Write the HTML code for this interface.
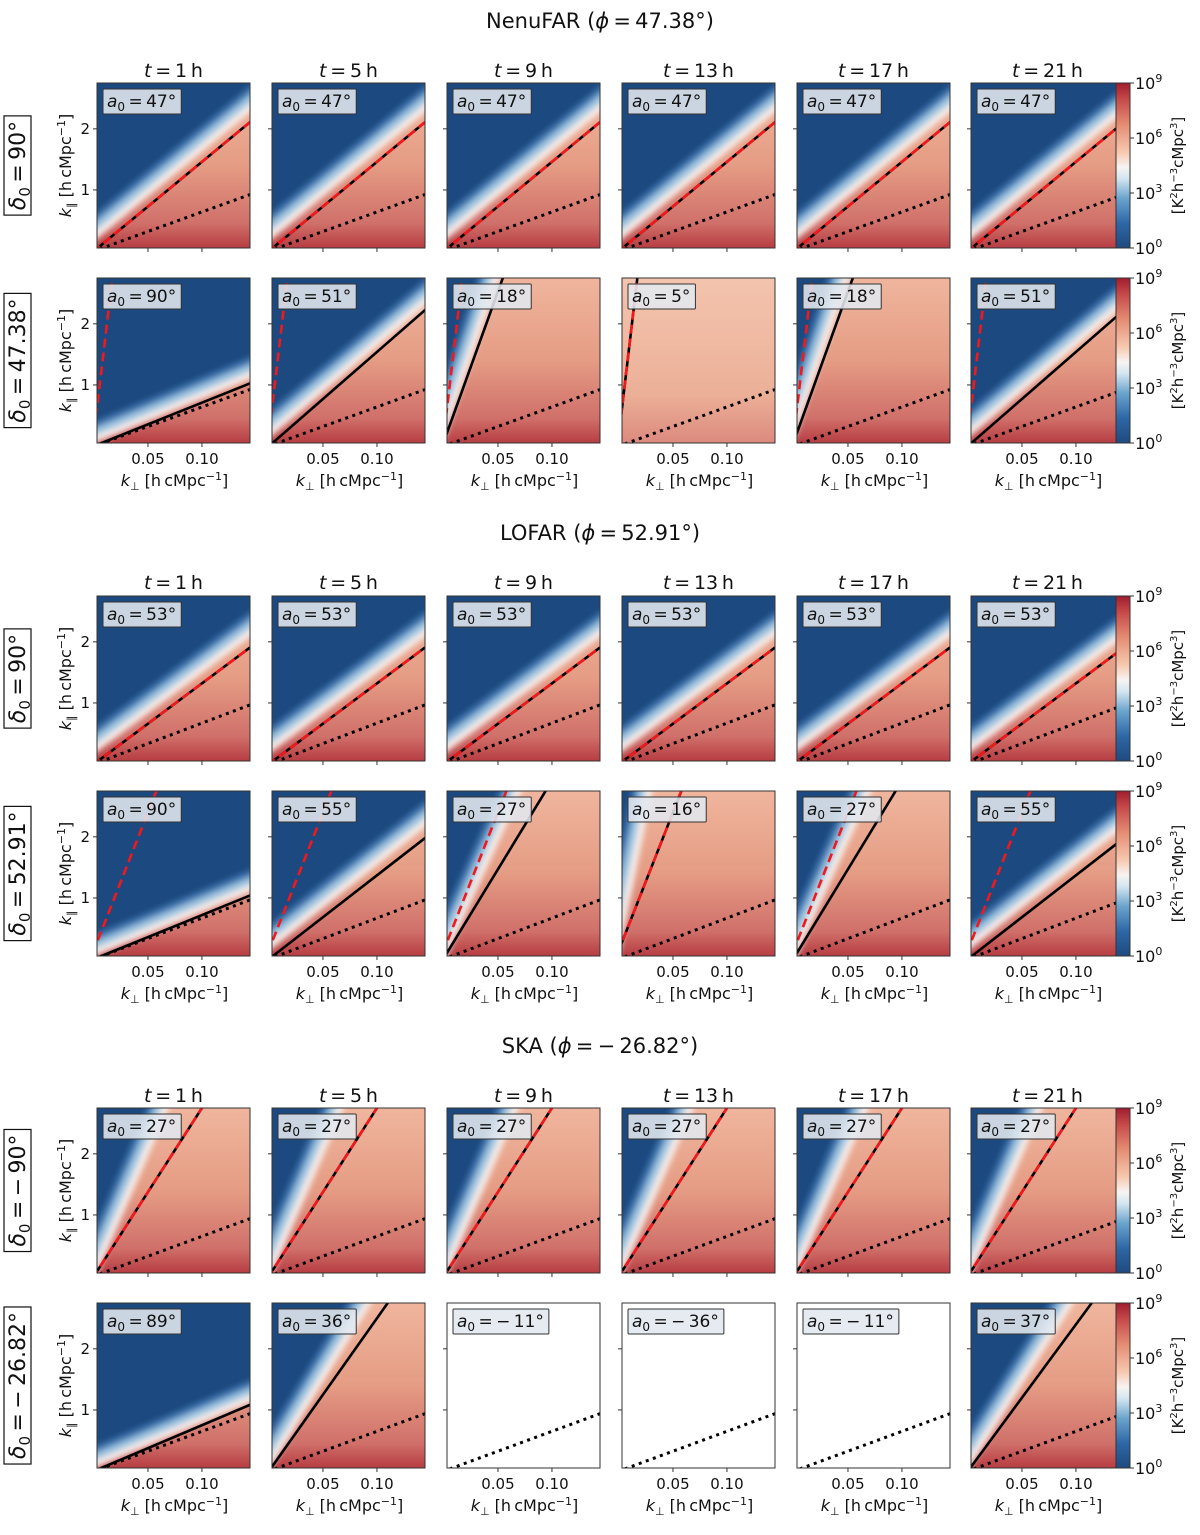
<!DOCTYPE html>
<html><head><meta charset="utf-8">
<style>
html,body{margin:0;padding:0;background:#fff;overflow:hidden;width:1200px;height:1535px;}
svg{display:block;font-family:"DejaVu Sans","Liberation Sans",sans-serif;}
</style></head>
<body>
<svg id="fig" width="1200" height="1535" viewBox="0 0 1200 1535" xmlns="http://www.w3.org/2000/svg">
<defs>
<linearGradient id="redbg" x1="0" y1="0" x2="0" y2="1">
<stop offset="0" stop-color="#f0b59d"/>
<stop offset="0.5" stop-color="#e59c84"/>
<stop offset="0.85" stop-color="#d0706a"/>
<stop offset="1" stop-color="#b73d42"/>
</linearGradient>
<linearGradient id="palebg" x1="0" y1="0" x2="0" y2="1">
<stop offset="0" stop-color="#f3c4ae"/>
<stop offset="0.7" stop-color="#ecb098"/>
<stop offset="1" stop-color="#dc8a7e"/>
</linearGradient>
<linearGradient id="cbar" x1="0" y1="1" x2="0" y2="0">
<stop offset="0" stop-color="#1f4a7f"/>
<stop offset="0.15" stop-color="#2d67a6"/>
<stop offset="0.3" stop-color="#6aa3cd"/>
<stop offset="0.42" stop-color="#d3e5f0"/>
<stop offset="0.49" stop-color="#f7f4f2"/>
<stop offset="0.58" stop-color="#f7c9b0"/>
<stop offset="0.75" stop-color="#e48c72"/>
<stop offset="0.9" stop-color="#c64a4a"/>
<stop offset="1" stop-color="#a11c2e"/>
</linearGradient>
<filter id="soft" x="-0.2" y="-0.2" width="1.4" height="1.4"><feGaussianBlur stdDeviation="3"/></filter>
</defs>
</svg>
<script>
// ---- data ----
const sectionTitles = ["NenuFAR", "LOFAR", "SKA"];
const sectionPhi = ["47.38", "52.91", "\u2212\u200926.82"];
const rowDeclinations = ["90", "47.38", "90", "52.91", "\u2212\u200990", "\u2212\u200926.82"];
const hours = [1, 5, 9, 13, 17, 21];
const a0Vals = [47,47,47,47,47,47, 90,51,18,5,18,51,
                53,53,53,53,53,53, 90,55,27,16,27,55,
                27,27,27,27,27,27, 89,36,-11,-36,-11,37];
const horizonSlope = [14.6,14.6,14.6,14.6,14.6,14.6, 7.1,15.4,49,150,49,15.4,
                      13.2,13.2,13.2,13.2,13.2,13.2, 7.2,13.7,29,45,29,13.7,
                      27.5,27.5,27.5,27.5,27.5,27.5, 7.5,25,null,null,null,24];
const horizonInt = [0,0,0,0,0,0, 0,0,0.08,0.2,0.08,0,
                    0,0,0,0,0,0, 0,0,0.02,0.15,0.02,0,
                    0,0,0,0,0,0, 0,0,null,null,null,0];
const pointingSlope = [14.6,14.6,14.6,14.6,14.6,14.6, 150,150,150,150,150,150,
                       13.2,13.2,13.2,13.2,13.2,13.2, 45,45,45,45,45,45,
                       27.5,27.5,27.5,27.5,27.5,27.5, null,null,null,null,null,null];
const pointingInt = [0,0,0,0,0,0, 0.2,0.2,0.2,0.2,0.2,0.2,
                     0,0,0,0,0,0, 0.15,0.15,0.15,0.15,0.15,0.15,
                     0,0,0,0,0,0, null,null,null,null,null,null];
const primarySlope = [6.4, 6.7, 6.5];
const edgeSlope = [14.6,14.6,14.6,14.6,14.6,14.6, 7.3,15,52,null,52,15,
                   13.2,13.2,13.2,13.2,13.2,13.2, 7.3,14,39,87,39,14,
                   41,41,41,41,41,41, 7.5,29,null,null,null,28];
const edgeInt = [0.35,0.35,0.35,0.35,0.35,0.35, 0.2,0.32,0.55,null,0.55,0.32,
                 0.35,0.35,0.35,0.35,0.35,0.35, 0.2,0.32,0.3,0.8,0.3,0.32,
                 0.28,0.28,0.28,0.28,0.28,0.28, 0.2,0.28,null,null,null,0.28];
const hasData = [1,1,1,1,1,1,1,1,1,1,1,1, 1,1,1,1,1,1,1,1,1,1,1,1, 1,1,1,1,1,1,1,1,0,0,0,1];
const xTicks = [0.05, 0.10];
const xTickLabels = ["0.05", "0.10"];
const yTicks = [1, 2];
const yTickLabels = ["1", "2"];
const cbExponents = [0, 3, 6, 9];

// ---- layout ----
const NS = "http://www.w3.org/2000/svg";
const svg = document.getElementById("fig");
const colL = [97, 272, 447, 622, 797, 971];
const rowT = [83, 278, 596, 791, 1108, 1303];
const W = 153, H = 165;
const XMIN = 0.0028, XMAX = 0.1445, YMIN = 0.05, YMAX = 2.75;
const secTitleY = [28, 540, 1053];
const tLabelY = [77, 589, 1102];

function mk(tag, attrs, parent) {
  const e = document.createElementNS(NS, tag);
  for (const k in attrs) e.setAttribute(k, attrs[k]);
  (parent || svg).appendChild(e);
  return e;
}

function lineRange(a, b, sx, sy) {
  const x0 = XMIN - 0.004, x1 = XMAX + 0.004;
  return [sx(x0), sy(a + b * x0), sx(x1), sy(a + b * x1)];
}

// Sutherland-Hodgman clip against rect
function clipPoly(pts, x0, y0, x1, y1) {
  const edges = [
    [p => p[0] >= x0, (a, b) => { const t = (x0 - a[0]) / (b[0] - a[0]); return [x0, a[1] + t * (b[1] - a[1])]; }],
    [p => p[0] <= x1, (a, b) => { const t = (x1 - a[0]) / (b[0] - a[0]); return [x1, a[1] + t * (b[1] - a[1])]; }],
    [p => p[1] >= y0, (a, b) => { const t = (y0 - a[1]) / (b[1] - a[1]); return [a[0] + t * (b[0] - a[0]), y0]; }],
    [p => p[1] <= y1, (a, b) => { const t = (y1 - a[1]) / (b[1] - a[1]); return [a[0] + t * (b[0] - a[0]), y1]; }]
  ];
  let out = pts;
  edges.forEach(([inside, inter]) => {
    const inp = out; out = [];
    for (let k = 0; k < inp.length; k++) {
      const cur = inp[k], prev = inp[(k + inp.length - 1) % inp.length];
      if (inside(cur)) {
        if (!inside(prev)) out.push(inter(prev, cur));
        out.push(cur);
      } else if (inside(prev)) out.push(inter(prev, cur));
    }
  });
  return out;
}

function offsetPoly(a, b, d, sx, sy, L, T) {
  const p0x = sx(0), p0y = sy(a);
  let vx = sx(1) - sx(0), vy = sy(a + b) - sy(a);
  const len = Math.hypot(vx, vy); vx /= len; vy /= len;
  const nx = vy, ny = -vx;
  const bx = p0x + d * nx, by = p0y + d * ny;
  const F = 600;
  const p1 = [bx - F * vx, by - F * vy], p2 = [bx + F * vx, by + F * vy];
  const p3 = [p2[0] + F * nx, p2[1] + F * ny], p4 = [p1[0] + F * nx, p1[1] + F * ny];
  const c = clipPoly([p1, p2, p3, p4], L - 12, T - 12, L + W + 12, T + H + 12);
  return c.map(p => p.map(v => v.toFixed(1)).join(",")).join(" ");
}

function drawA0Label(g, L, T, val) {
  const txt = mk("text", {x: L + 10, y: T + 24, "font-size": 17, fill: "#111"}, g);
  
  
  const t1 = mk("tspan", {"font-style": "italic"}, txt); t1.textContent = "a";
  const t2 = mk("tspan", {"font-size": 12, dy: 4}, txt); t2.textContent = "0";
  const vs = val < 0 ? "\u2212\u2009" + Math.abs(val) : String(val);
  const t3 = mk("tspan", {dy: -4}, txt); t3.textContent = "\u2009=\u2009" + vs + "\u00b0";
  const w = txt.getComputedTextLength();
  const box = mk("rect", {x: L + 6, y: T + 6, width: w + 9, height: 25, fill: "#e3e8ef", "fill-opacity": 0.88, stroke: "#333", "stroke-width": 1, rx: 1}, g);
  
  
  g.insertBefore(box, txt);
}

function mathLabel(parent, attrs, parts) {
  const t = mk("text", attrs, parent);
  parts.forEach(p => {
    const s = mk("tspan", p.a || {}, t);
    s.textContent = p.s;
  });
  return t;
}

for (let sec = 0; sec < 3; sec++) {
  const st = mathLabel(svg, {x: 600, y: secTitleY[sec], "font-size": 21, "text-anchor": "middle", fill: "#111"},
    [{s: sectionTitles[sec] + " ("}, {s: "\u03d5", a: {"font-style": "italic"}}, {s: "\u2009=\u2009" + sectionPhi[sec] + "\u00b0)"}]);
  
  

  for (let c = 0; c < 6; c++) {
    const tl = mathLabel(svg, {x: colL[c] + W / 2, y: tLabelY[sec], "font-size": 19, "text-anchor": "middle", fill: "#111"},
      [{s: "t", a: {"font-style": "italic"}}, {s: "\u2009=\u2009" + hours[c] + "\u2009h"}]);
    
    
  }

  for (let r = 0; r < 2; r++) {
    const R = sec * 2 + r;
    const T = rowT[R];
    const cy = T + H / 2;

    const rg = mk("g", {transform: `translate(17,${cy}) rotate(-90)`});
    
    
    const rt = mathLabel(rg, {x: 0, y: 8, "font-size": 22, "text-anchor": "middle", fill: "#111"},
      [{s: "\u03b4", a: {"font-style": "italic"}}, {s: "0", a: {"font-size": 15, dy: 5}}, {s: "\u2009=\u2009" + rowDeclinations[R] + "\u00b0", a: {dy: -5}}]);
    
    
    const rw = rt.getComputedTextLength();
    const rb = mk("rect", {x: -rw / 2 - 5, y: -13, width: rw + 10, height: 27, fill: "none", stroke: "#111", "stroke-width": 1.2}, rg);
    
    

    const yg = mk("g", {transform: `translate(71,${cy}) rotate(-90)`});
    
    
    const yt = mathLabel(yg, {x: 0, y: 0, "font-size": 16, "text-anchor": "middle", fill: "#111"},
      [{s: "k", a: {"font-style": "italic"}}, {s: "\u2225", a: {"font-size": 11, dy: 4}}, {s: " [h\u2009cMpc", a: {dy: -4}}, {s: "\u22121", a: {"font-size": 11, dy: -6}}, {s: "]", a: {dy: 6}}]);
    
    

    for (let c = 0; c < 6; c++) {
      const i = sec * 12 + r * 6 + c;
      const L = colL[c];
      const sx = x => L + (x - XMIN) * W / (XMAX - XMIN);
      const sy = y => T + H - (y - YMIN) * H / (YMAX - YMIN);
      const g = mk("g", {});
      
      
      const cid = "clip" + i;
      const cp = mk("clipPath", {id: cid}, g);
      mk("rect", {x: L, y: T, width: W, height: H}, cp);
      const inner = mk("g", {"clip-path": `url(#${cid})`}, g);

      if (hasData[i]) {
        const pale = edgeSlope[i] === null;
        const bg = mk("rect", {x: L, y: T, width: W, height: H, fill: pale ? "url(#palebg)" : "url(#redbg)"}, inner);
        
        
        if (!pale) {
          const fg = mk("g", {filter: "url(#soft)"}, inner);
          const layers = [[-9, "#f6ece8"], [-2, "#9cc4e0"], [5, "#3a72ad"], [11, "#1f4a7f"]];
          layers.forEach(([d, col]) => {
            const pts = offsetPoly(edgeInt[i], edgeSlope[i], d, sx, sy, L, T);
            if (!pts) return;
            const p = mk("polygon", {points: pts, fill: col}, fg);
            
            
          });
        }
      } else {
        const bg = mk("rect", {x: L, y: T, width: W, height: H, fill: "#fff"}, inner);
        
        
      }

      let lr = lineRange(0, primarySlope[sec], sx, sy);
      const dl = mk("line", {x1: lr[0], y1: lr[1], x2: lr[2], y2: lr[3], stroke: "#000", "stroke-width": 3, "stroke-dasharray": "3 4.5"}, inner);
      
      

      if (horizonSlope[i] !== null) {
        lr = lineRange(horizonInt[i], horizonSlope[i], sx, sy);
        const bl = mk("line", {x1: lr[0], y1: lr[1], x2: lr[2], y2: lr[3], stroke: "#000", "stroke-width": 2.6}, inner);
        
        
      }
      if (pointingSlope[i] !== null) {
        lr = lineRange(pointingInt[i], pointingSlope[i], sx, sy);
        const rl = mk("line", {x1: lr[0], y1: lr[1], x2: lr[2], y2: lr[3], stroke: "#f2181c", "stroke-width": 2.6, "stroke-dasharray": "9 5"}, inner);
        
        
      }

      drawA0Label(g, L, T, a0Vals[i]);

      const fr = mk("rect", {x: L, y: T, width: W, height: H, fill: "none", stroke: "#333", "stroke-width": 1}, g);
      
      

      xTicks.forEach((v, k) => {
        const tk = mk("line", {x1: sx(v), y1: T + H, x2: sx(v), y2: T + H + 4, stroke: "#333", "stroke-width": 1}, g);
        
        
        if (r === 1) {
          const tx = mk("text", {x: sx(v), y: T + H + 21, "font-size": 15, "text-anchor": "middle", fill: "#111"}, g);
          tx.textContent = xTickLabels[k];
          
          
        }
      });
      yTicks.forEach((v, k) => {
        const tk = mk("line", {x1: L - 4, y1: sy(v), x2: L, y2: sy(v), stroke: "#333", "stroke-width": 1}, g);
        
        
        if (c === 0) {
          const ty = mk("text", {x: L - 7, y: sy(v) + 5, "font-size": 15, "text-anchor": "end", fill: "#111"}, g);
          ty.textContent = yTickLabels[k];
          
          
        }
      });
      if (r === 1) {
        const xt = mathLabel(g, {x: L + W / 2 + 1, y: T + H + 43, "font-size": 16, "text-anchor": "middle", fill: "#111"},
          [{s: "k", a: {"font-style": "italic"}}, {s: "\u22a5", a: {"font-size": 11, dy: 4}}, {s: " [h\u2009cMpc", a: {dy: -4}}, {s: "\u22121", a: {"font-size": 11, dy: -6}}, {s: "]", a: {dy: 6}}]);
        
        
      }
    }

    const cx = 1116, cw = 14;
    const cb = mk("rect", {x: cx, y: T, width: cw, height: H, fill: "url(#cbar)", stroke: "#333", "stroke-width": 1});
    
    
    cbExponents.forEach(e => {
      const yy = T + H - (e / 9) * H;
      const tk = mk("line", {x1: cx + cw, y1: yy, x2: cx + cw + 4, y2: yy, stroke: "#333", "stroke-width": 1});
      
      
      const tt = mathLabel(svg, {x: cx + cw + 5, y: yy + 6, "font-size": 16, fill: "#111"},
        [{s: "10"}, {s: String(e), a: {"font-size": 11, dy: -7}}]);
      
      
    });
    const cg = mk("g", {transform: `translate(1183,${cy}) rotate(-90)`});
    
    
    const ct = mathLabel(cg, {x: 0, y: 0, "font-size": 15, "text-anchor": "middle", fill: "#111"},
      [{s: "[K"}, {s: "2", a: {"font-size": 10, dy: -6}}, {s: "h", a: {dy: 6}}, {s: "\u22123", a: {"font-size": 10, dy: -6}}, {s: "cMpc", a: {dy: 6}}, {s: "3", a: {"font-size": 10, dy: -6}}, {s: "]", a: {dy: 6}}]);
    
    
  }
}
</script>
</body></html>
